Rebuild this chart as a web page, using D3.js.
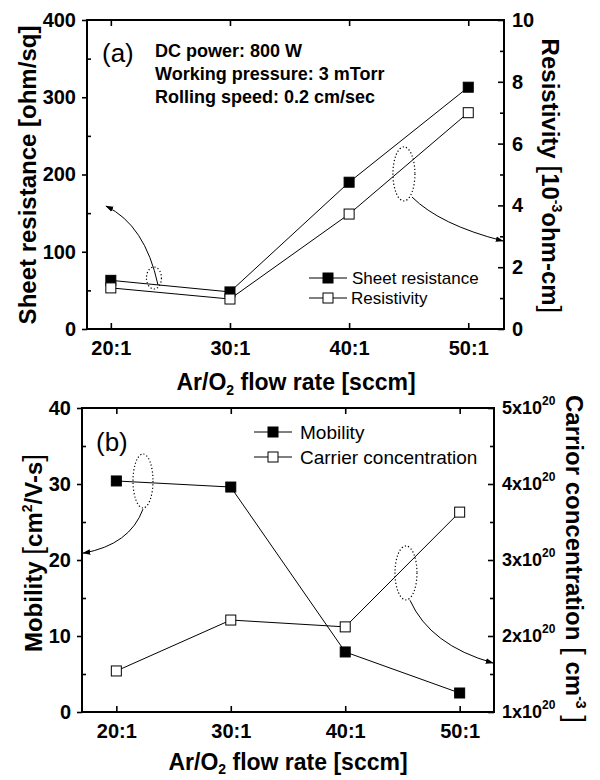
<!DOCTYPE html>
<html>
<head>
<meta charset="utf-8">
<script src="https://cdn.jsdelivr.net/npm/d3@7"></script>
<style>
  body { margin: 0; background: #fff; }
  svg { display: block; }
  text { font-family: Arial, "Liberation Sans", sans-serif; fill: #000; }
</style>
</head>
<body>
<svg id="chart"></svg>
<script>
// flow ratio Ar:O2 (x positions) and their labels
var ratios = [20, 30, 40, 50];
var ratioLabels = ["20:1", "30:1", "40:1", "50:1"];

// panel (a)
var sheetResistance = [63, 48, 190, 313];      // ohm/sq
var resistivity = [1.33, 0.97, 3.72, 7.0];     // 10^-3 ohm-cm
var sheetTicks = [0, 100, 200, 300, 400];
var sheetMinor = [50, 150, 250, 350];
var resistTicks = [0, 2, 4, 6, 8, 10];
var resistMinor = [1, 3, 5, 7, 9];

// panel (b)
var mobility = [30.4, 29.6, 7.9, 2.5];         // cm2/V-s
var carrier = [1.54, 2.21, 2.12, 3.63];        // x10^20 cm-3
var mobilityTicks = [0, 10, 20, 30, 40];
var mobilityMinor = [5, 15, 25, 35];
var carrierTicks = [1, 2, 3, 4, 5];
var carrierMinor = [1.5, 2.5, 3.5, 4.5];

var width = 600, height = 780;
var svg = d3.select("#chart").attr("width", width).attr("height", height);

var defs = svg.append("defs");
defs.append("marker")
  .attr("id", "head")
  .attr("viewBox", "0 0 10 10")
  .attr("refX", 9).attr("refY", 5)
  .attr("markerWidth", 8).attr("markerHeight", 8)
  .attr("markerUnits", "userSpaceOnUse")
  .attr("orient", "auto")
  .append("path")
  .attr("d", "M0,1.5L10,5L0,8.5Z")
  .attr("fill", "#000");

/***** scales *****/
var xA = d3.scaleLinear().domain([18, 53]).range([87, 504]);
var ySheet = d3.scaleLinear().domain([0, 400]).range([329, 20]);
var yRes = d3.scaleLinear().domain([0, 10]).range([329, 20]);

var xB = d3.scaleLinear().domain([17, 53]).range([82, 494]);
var yMob = d3.scaleLinear().domain([0, 40]).range([712, 408]);
var yCar = d3.scaleLinear().domain([1, 5]).range([712, 408]);

function styleAxis(g, size) {
  g.select(".domain").remove();
  g.selectAll("line").attr("stroke", "#000").attr("stroke-width", 1.6);
  g.selectAll("text")
    .attr("font-size", size)
    .attr("font-weight", "bold")
    .attr("font-family", "Arial, 'Liberation Sans', sans-serif")
    .attr("fill", "#000");
}

function panel(x, yL, yR, opt) {
  var g = svg.append("g");
  var x0 = x.range()[0], x1 = x.range()[1];
  var top = yL.range()[1], bot = yL.range()[0];

  // bottom axis (ticks inward)
  g.append("g")
    .attr("transform", `translate(0,${bot})`)
    .call(d3.axisBottom(x).tickValues(ratios).tickSize(-6).tickPadding(12)
      .tickFormat((d, i) => ratioLabels[i]))
    .call(styleAxis, 20);
  // top axis, ticks only
  g.append("g")
    .attr("transform", `translate(0,${top})`)
    .call(d3.axisTop(x).tickValues(ratios).tickSize(-6).tickFormat(""))
    .call(styleAxis, 20);

  // left axis
  g.append("g")
    .attr("transform", `translate(${x0},0)`)
    .call(d3.axisLeft(yL).tickValues(opt.leftTicks).tickSize(5).tickPadding(opt.leftPad))
    .call(styleAxis, 20);
  g.append("g")
    .attr("transform", `translate(${x0},0)`)
    .call(d3.axisLeft(yL).tickValues(opt.leftMinor).tickSize(-4).tickFormat(""))
    .call(styleAxis, 20);

  // right axis
  var ra = g.append("g")
    .attr("transform", `translate(${x1},0)`)
    .call(d3.axisRight(yR).tickValues(opt.rightTicks).tickSize(-6).tickPadding(8)
      .tickFormat(opt.rightFormat))
    .call(styleAxis, opt.rightSize);
  if (opt.rightSup) {
    ra.selectAll(".tick text")
      .append("tspan")
      .attr("dy", -9)
      .attr("font-size", 12)
      .text(opt.rightSup);
  }
  g.append("g")
    .attr("transform", `translate(${x1},0)`)
    .call(d3.axisRight(yR).tickValues(opt.rightMinor).tickSize(-4).tickFormat(""))
    .call(styleAxis, 20);

  // frame
  g.append("rect")
    .attr("x", x0).attr("y", top)
    .attr("width", x1 - x0).attr("height", bot - top)
    .attr("fill", "none")
    .attr("stroke", "#000")
    .attr("stroke-width", 2);

  return g;
}

function series(g, x, y, values, filled) {
  var line = d3.line().x((d, i) => x(ratios[i])).y(d => y(d));
  g.append("path")
    .attr("d", line(values))
    .attr("fill", "none")
    .attr("stroke", "#000")
    .attr("stroke-width", 1);
  g.selectAll(null)
    .data(values)
    .enter()
    .append("rect")
    .attr("x", (d, i) => x(ratios[i]) - 5)
    .attr("y", d => y(d) - 5)
    .attr("width", 10).attr("height", 10)
    .attr("fill", filled ? "#000" : "#fff")
    .attr("stroke", "#000")
    .attr("stroke-width", 1);
}

function legendRow(g, x, y, filled, label, size, textX) {
  g.append("line")
    .attr("x1", x - 19).attr("x2", x + 19)
    .attr("y1", y).attr("y2", y)
    .attr("stroke", "#000").attr("stroke-width", 1);
  g.append("rect")
    .attr("x", x - 5).attr("y", y - 5)
    .attr("width", 10).attr("height", 10)
    .attr("fill", filled ? "#000" : "#fff")
    .attr("stroke", "#000");
  g.append("text")
    .attr("x", textX).attr("y", y + size * 0.36)
    .attr("font-size", size)
    .text(label);
}

// rich text: parts = [text, size, weight, dy]
function richText(g, tx, ty, rot, parts) {
  var t = g.append("text")
    .attr("transform", `translate(${tx},${ty}) rotate(${rot})`)
    .attr("text-anchor", "middle");
  parts.forEach(function(p) {
    t.append("tspan")
      .attr("font-size", p[1])
      .attr("font-weight", p[2])
      .attr("dy", p[3] || 0)
      .text(p[0]);
  });
  return t;
}

function ellipse(g, cx, cy, rx, ry) {
  g.append("ellipse")
    .attr("cx", cx).attr("cy", cy)
    .attr("rx", rx).attr("ry", ry)
    .attr("fill", "none")
    .attr("stroke", "#000")
    .attr("stroke-width", 1.2)
    .attr("stroke-dasharray", "1.2,2.2");
}

function arrow(g, p0, pc, p1) {
  g.append("path")
    .attr("d", `M${p0[0]},${p0[1]}Q${pc[0]},${pc[1]} ${p1[0]},${p1[1]}`)
    .attr("fill", "none")
    .attr("stroke", "#000")
    .attr("stroke-width", 1)
    .attr("marker-end", "url(#head)");
}

/***** panel (a) *****/
var ga = panel(xA, ySheet, yRes, {
  leftTicks: sheetTicks, leftMinor: sheetMinor, leftPad: 6,
  rightTicks: resistTicks, rightMinor: resistMinor,
  rightFormat: d3.format("d"), rightSize: 20
});
series(ga, xA, ySheet, sheetResistance, true);
series(ga, xA, yRes, resistivity, false);

ga.append("text").attr("x", 102).attr("y", 62).attr("font-size", 26).text("(a)");
["DC power: 800 W", "Working pressure: 3 mTorr", "Rolling speed: 0.2 cm/sec"]
  .forEach(function(s, i) {
    ga.append("text")
      .attr("x", 155).attr("y", 57 + i * 23)
      .attr("font-size", 18).attr("font-weight", "bold")
      .text(s);
  });

legendRow(ga, 328, 278, true, " Sheet resistance", 17, 352);
legendRow(ga, 328, 298, false, "Resistivity", 17, 351);

ellipse(ga, xA(23.62), ySheet(66), 7.5, 11);
arrow(ga, [xA(23.96), ySheet(57)], [xA(22.87), ySheet(134.6)], [xA(19.6), ySheet(159)]);
ellipse(ga, xA(44.6), yRes(5.02), 11, 27);
arrow(ga, [xA(45.28), yRes(4.27)], [xA(47.63), yRes(3.37)], [xA(52.92), yRes(2.85)]);

richText(ga, 36, 175, -90, [["Sheet resistance [ohm/sq]", 24, "bold"]]);
richText(ga, 542, 176, 90, [
  ["Resistivity ", 24, "bold"], ["[", 28, "normal"], ["10", 24, "bold"],
  ["-3", 14, "bold", -10], ["ohm-cm", 24, "bold", 10], ["]", 28, "normal"]
]);
richText(ga, 296, 390, 0, [
  ["Ar/O", 23, "bold"], ["2", 14, "bold", 5], [" flow rate [sccm]", 23, "bold", -5]
]);

/***** panel (b) *****/
var gb = panel(xB, yMob, yCar, {
  leftTicks: mobilityTicks, leftMinor: mobilityMinor, leftPad: 6,
  rightTicks: carrierTicks, rightMinor: carrierMinor,
  rightFormat: d => d + "x10", rightSize: 18, rightSup: "20"
});
series(gb, xB, yMob, mobility, true);
series(gb, xB, yCar, carrier, false);

gb.append("text").attr("x", 96).attr("y", 451).attr("font-size", 26).text("(b)");
legendRow(gb, 273, 432, true, "Mobility", 19, 300);
legendRow(gb, 273, 457, false, "Carrier concentration", 19, 300);

ellipse(gb, xB(22.33), yMob(30.4), 10, 27);
arrow(gb, [xB(22.33), yMob(26.7)], [xB(21.19), yMob(22.0)], [xB(17.09), yMob(20.9)]);
ellipse(gb, xB(45.31), yCar(2.83), 11, 27);
arrow(gb, [xB(45.66), yCar(2.47)], [xB(47.41), yCar(1.88)], [xB(52.91), yCar(1.645)]);

richText(gb, 42, 553, -90, [
  ["Mobility ", 24, "bold"], ["[", 28, "normal"], ["cm", 24, "bold"],
  ["2", 14, "bold", -10], ["/V-s", 24, "bold", 10], ["]", 28, "normal"]
]);
richText(gb, 566, 559, 90, [
  ["Carrior concentration ", 24, "bold"], ["[", 28, "normal"], [" cm", 24, "bold"],
  ["-3", 14, "bold", -10], [" ", 24, "bold", 10], ["]", 28, "normal"]
]);
richText(gb, 288, 770, 0, [
  ["Ar/O", 23, "bold"], ["2", 14, "bold", 4], [" flow rate [sccm]", 23, "bold", -4]
]);
</script>
</body>
</html>
